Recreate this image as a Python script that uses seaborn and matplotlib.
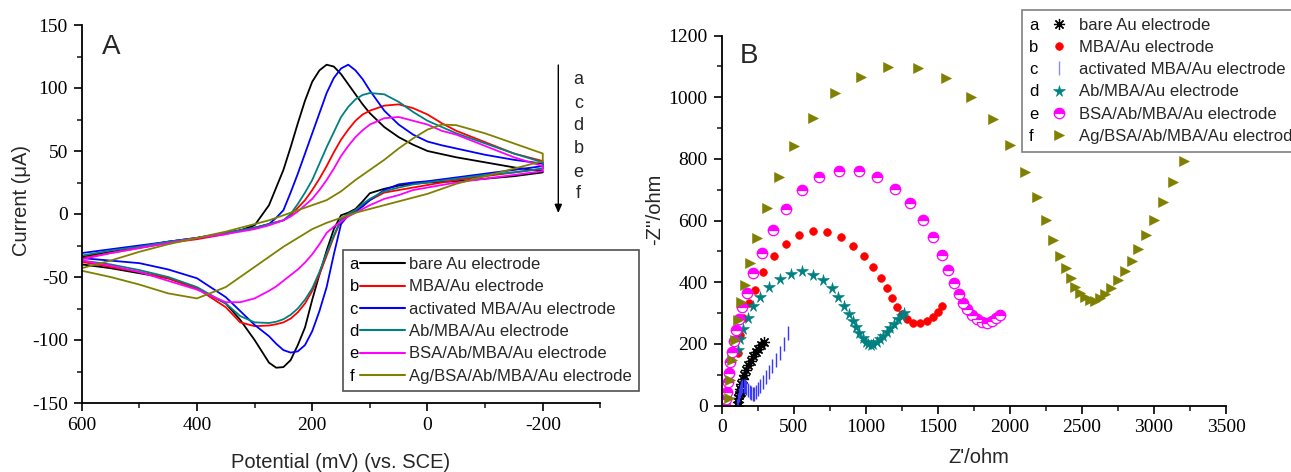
import numpy as np
import pandas as pd
import matplotlib
matplotlib.use("Agg")
import matplotlib.pyplot as plt
import seaborn as sns
from matplotlib.lines import Line2D
from matplotlib.text import Text
from matplotlib.legend_handler import HandlerBase
from matplotlib.ticker import FixedLocator, MultipleLocator

# ---------------- data: panel A (cyclic voltammetry) ----------------
potential_mV = [600, 550, 500, 450, 400, 350, 325, 300, 275, 262.5, 250, 237.5, 225, 212.5, 200,
                187.5, 175, 162.5, 150, 137.5, 125, 112.5, 100, 75, 50, 25, 0, -25, -50, -100, -150, -200]

cv_a_fwd = [-34, -30, -26, -22, -19, -15, -13, -9, 7, 21, 35, 53, 72, 90, 105,
            114, 118.5, 117, 111, 103, 95, 87, 80, 69, 61, 55, 50, 47.5, 45, 41, 37, 34]
cv_a_rev = [-40, -43, -47, -51, -59, -71, -84, -100, -118, -122, -121.5, -116, -104, -90, -68,
            -48, -29, -12, -1, 1, 4, 10, 16.5, 20, 22.5, 24, 25, 25.5, 26, 28, 30, 33]
cv_b_fwd = [-35, -31, -27, -23, -20, -16, -13, -11, -8, -6.5, -5, -1, 5, 11, 19,
            28, 38, 49, 59, 67, 74, 79, 82, 86, 87, 84, 79, 72, 66, 57, 48, 42]
cv_b_rev = [-38, -42, -46, -51, -59, -74, -86, -89, -88.5, -87.5, -86, -83, -78, -71, -61,
            -48, -33, -18, -5, 0, 3, 7, 11, 17, 19, 21, 23, 25, 27, 30, 33, 36]
cv_c_fwd = [-31, -28, -25, -22, -19, -15, -13, -11, -8, -3, 3, 17, 32, 48, 64,
            80, 96, 108, 115.5, 118.5, 114, 107, 98, 82, 71, 63, 57.5, 54.5, 52, 47, 43, 40]
cv_c_rev = [-35, -37, -39, -44, -51, -66, -77, -88, -97, -103, -108, -110, -109, -104, -93,
            -77, -58, -32, -8, -1, 2, 6, 11, 19, 23.5, 25, 26, 27.5, 29, 32, 35, 38]
cv_d_fwd = [-33, -29, -26, -22, -19, -15, -13, -11, -8, -6.5, -5, 0, 8, 17, 27,
            40, 53, 65, 77, 85, 91, 94.5, 96, 95, 89, 81, 74, 69, 64, 56, 48, 41]
cv_d_rev = [-37, -40, -44.5, -50, -58, -71, -81, -86, -86.5, -85.5, -83.5, -80, -75, -68, -59,
            -46, -31, -17, -4, 0, 3, 8, 12, 18, 21, 23.5, 25, 26.5, 28, 31, 33, 36]
cv_e_fwd = [-36, -31, -27, -23, -19, -16, -14, -12, -9, -7, -5, -2, 2, 7, 12,
            19, 27, 36, 46, 54, 61, 66.5, 71, 76, 77, 74, 71, 66, 63, 54, 45, 38]
cv_e_rev = [-37, -41, -46, -53, -60, -70, -70, -67, -61, -57.5, -53, -48.5, -44, -38.5, -32,
            -24, -15, -10, -6, -2, 1, 4, 7, 12, 15, 19, 21, 23, 25, 28, 31, 34]
cv_f_fwd = [-43, -37, -30, -24, -19, -14, -11, -8, -5, -3, -1, 1, 3, 5, 7,
            9, 11, 14.5, 18, 22.5, 27, 31, 35, 43, 52, 60, 67, 71, 70.5, 64, 56, 48]
cv_f_rev = [-45, -50, -56, -63, -67, -58, -50, -42, -34, -30, -26, -22.5, -19, -15.5, -12,
            -9.5, -7, -5, -3, -1, 1, 2.5, 4, 7, 10, 13, 16, 20, 24, 30, 36, 42]

series_letters = ["a", "b", "c", "d", "e", "f"]
series_labels = ["bare Au electrode", "MBA/Au electrode", "activated MBA/Au electrode",
                 "Ab/MBA/Au electrode", "BSA/Ab/MBA/Au electrode", "Ag/BSA/Ab/MBA/Au electrode"]
arrow_order = ["a", "c", "d", "b", "e", "f"]

# ---------------- data: panel B (Nyquist plots) ----------------
eis_a_zre = [110, 112, 116, 122, 128, 132, 130, 135, 145, 157, 170, 185, 200, 218, 236, 255, 275, 296]
eis_a_zim = [0, 12, 25, 35, 40, 45, 55, 70, 85, 100, 115, 130, 145, 160, 172, 184, 195, 205]

eis_b_zre = [110, 130, 150, 192, 231, 289, 363, 446, 539, 636, 729, 828, 914, 988, 1048, 1103,
             1145, 1182, 1214, 1249, 1284, 1330, 1376, 1423, 1469, 1504, 1531]
eis_b_zim = [170, 230, 285, 333, 375, 432, 485, 523, 552, 566, 564, 545, 518, 485, 448, 412,
             380, 349, 320, 296, 280, 269, 269, 275, 288, 304, 324]

eis_c_zre = [108, 112, 118, 125, 133, 142, 152, 162, 172, 182, 193, 204, 215, 225, 236, 250,
             266, 284, 304, 326, 350, 376, 403, 430, 458]
eis_c_zim = [0, 18, 34, 47, 56, 62, 64, 62, 57, 51, 45, 40, 37, 38, 43, 52,
             63, 76, 91, 108, 127, 148, 171, 200, 234]

eis_d_zre = [110, 125, 150, 185, 220, 266, 331, 405, 479, 560, 636, 701, 763, 810, 849, 884,
             909, 932, 955, 978, 999, 1018, 1034, 1052, 1076, 1099, 1122, 1145, 1168, 1196,
             1226, 1249, 1268]
eis_d_zim = [180, 215, 247, 283, 323, 353, 383, 409, 426, 437, 424, 407, 382, 353, 324, 297,
             275, 256, 236, 220, 207, 198, 196, 199, 207, 216, 226, 237, 250, 264,
             279, 291, 299]

eis_e_zre = [25, 30, 35, 42, 50, 60, 72, 85, 100, 118, 140, 174, 220, 278, 354, 446, 555, 678,
             817, 955, 1076, 1203, 1307, 1395, 1469, 1527, 1573, 1615, 1649, 1677, 1700, 1735,
             1770, 1804, 1839, 1874, 1904, 1932]
eis_e_zim = [0, 20, 45, 75, 105, 140, 175, 210, 245, 282, 320, 366, 429, 496, 569, 638, 699, 742,
             762, 762, 740, 702, 656, 602, 545, 488, 440, 396, 361, 334, 312, 294,
             280, 272, 269, 275, 285, 294]

eis_f_zre = [48, 56, 71, 90, 110, 133, 161, 195, 246, 311, 401, 500, 636, 788, 966, 1155, 1360,
             1557, 1728, 1881, 2001, 2105, 2186, 2251, 2301, 2348, 2389, 2422, 2452, 2487, 2521,
             2556, 2591, 2625, 2660, 2700, 2753, 2799, 2845, 2891, 2945, 3000, 3065, 3134, 3210]
eis_f_zim = [25, 84, 149, 213, 278, 337, 391, 461, 542, 639, 740, 842, 934, 1013, 1067, 1098, 1093,
             1061, 1002, 929, 845, 756, 675, 602, 537, 486, 445, 413, 385, 366, 351,
             342, 340, 348, 362, 380, 407, 437, 470, 507, 553, 602, 661, 724, 794]

# ---------------- style ----------------
sns.set_style("ticks")
SANS = "Liberation Sans"
SERIF = "Liberation Serif"
plt.rcParams["font.family"] = [SANS, "DejaVu Sans"]
plt.rcParams["axes.unicode_minus"] = False

colors = ["#000000", "#ff0000", "#0000ff", "#008080", "#ff00ff", "#808000"]

W, H = 1291, 472
fig = plt.figure(figsize=(W / 100, H / 100), dpi=100)
axA = fig.add_axes([81.7 / W, 1 - 403 / H, (600.4 - 81.7) / W, 378 / H])
axB = fig.add_axes([721.7 / W, 1 - 405.5 / H, (1226 - 721.7) / W, 370 / H])

# ---------------- panel A ----------------
fwd = [cv_a_fwd, cv_b_fwd, cv_c_fwd, cv_d_fwd, cv_e_fwd, cv_f_fwd]
rev = [cv_a_rev, cv_b_rev, cv_c_rev, cv_d_rev, cv_e_rev, cv_f_rev]
for i in range(6):
    df = pd.DataFrame({"E": potential_mV + potential_mV[::-1],
                       "I": fwd[i] + rev[i][::-1]})
    sns.lineplot(data=df, x="E", y="I", sort=False, estimator=None, color=colors[i],
                 linewidth=1.3, ax=axA, legend=False)

axA.set_xlim(600, -300)
axA.set_ylim(-150, 150)
axA.xaxis.set_major_locator(FixedLocator([600, 400, 200, 0, -200]))
axA.xaxis.set_minor_locator(FixedLocator([500, 300, 100, -100, -300]))
axA.yaxis.set_major_locator(MultipleLocator(50))
axA.yaxis.set_minor_locator(MultipleLocator(25))
axA.set_xlabel("Potential (mV) (vs. SCE)", fontsize=14.5, family=SANS)
axA.set_ylabel("Current (\u03bcA)", fontsize=14.5, family=SANS)
axA.xaxis.set_label_coords(0.5, -0.132)
axA.yaxis.set_label_coords(-0.098, 0.537)

# ---------------- panel B ----------------
eis = [(eis_a_zre, eis_a_zim), (eis_b_zre, eis_b_zim), (eis_c_zre, eis_c_zim),
       (eis_d_zre, eis_d_zim), (eis_e_zre, eis_e_zim), (eis_f_zre, eis_f_zim)]
marker_styles = [
    dict(marker=(8, 2, 0), markersize=8, markeredgewidth=0.9, markeredgecolor=colors[0],
         markerfacecolor=colors[0], color=colors[0]),
    dict(marker="o", markersize=5.5, markeredgewidth=0.5, markeredgecolor=colors[1],
         markerfacecolor=colors[1], color=colors[1]),
    dict(marker="|", markersize=10, markeredgewidth=1.0, markeredgecolor="#3a3aff",
         markerfacecolor="#3a3aff", color="#3a3aff"),
    dict(marker="*", markersize=8.5, markeredgewidth=0.4, markeredgecolor=colors[3],
         markerfacecolor=colors[3], color=colors[3]),
    dict(marker="o", markersize=7.5, markeredgewidth=0.9, markeredgecolor=colors[4], color=colors[4],
         markerfacecolor=colors[4], fillstyle="top", markerfacecoloralt="white"),
    dict(marker=">", markersize=6.5, markeredgewidth=0.4, markeredgecolor=colors[5],
         markerfacecolor=colors[5], color=colors[5]),
]
for i in range(6):
    zre, zim = eis[i]
    sns.lineplot(x=zre, y=zim, sort=False, estimator=None, ax=axB, legend=False,
                 linestyle="none", **marker_styles[i])

axB.set_xlim(0, 3500)
axB.set_ylim(0, 1200)
axB.xaxis.set_major_locator(MultipleLocator(500))
axB.xaxis.set_minor_locator(MultipleLocator(250))
axB.yaxis.set_major_locator(MultipleLocator(200))
axB.yaxis.set_minor_locator(MultipleLocator(100))
axB.set_xlabel("Z'/ohm", fontsize=14.5, family=SANS)
axB.set_ylabel("-Z''/ohm", fontsize=14.5, family=SANS)
axB.xaxis.set_label_coords(0.51, -0.116)
axB.yaxis.set_label_coords(-0.114, 0.531)

for ax in (axA, axB):
    sns.despine(ax=ax)
    for s in ("left", "bottom"):
        ax.spines[s].set_linewidth(1.3)
        ax.spines[s].set_color("black")
    ax.tick_params(which="major", direction="out", length=6, width=1.2, pad=4,
                   labelsize=14, colors="black", labelfontfamily=SERIF)
    ax.tick_params(which="minor", direction="out", length=3.5, width=1.2)
    ax.grid(False)


# ---------------- legends with leading letters ----------------
class LetterHandler(HandlerBase):
    def __init__(self, letter, style, kind, offset):
        super().__init__()
        self.letter = letter
        self.style = style
        self.kind = kind
        self.offset = offset

    def create_artists(self, legend, orig_handle, xdescent, ydescent, width, height,
                       fontsize, trans):
        x0 = -xdescent
        yc = (height - ydescent) / 2.0
        txt = Text(x0, 0, self.letter, fontsize=fontsize, va="baseline", ha="left",
                   family=SANS, color="black")
        txt.set_transform(trans)
        if self.kind == "line":
            art = Line2D([x0 + self.offset, x0 + width], [yc, yc], **self.style)
        else:
            art = Line2D([x0 + self.offset], [yc], linestyle="none", **self.style)
        art.set_transform(trans)
        return [txt, art]


handlesA = [Line2D([], []) for _ in range(6)]
hmapA = {h: LetterHandler(series_letters[i], dict(color=colors[i], linewidth=1.5), "line", 7.5)
         for i, h in enumerate(handlesA)}
legA = axA.legend(handlesA, series_labels, handler_map=hmapA, loc="upper left",
                  bbox_to_anchor=(342.7 / W, 1 - 250 / H), bbox_transform=fig.transFigure,
                  borderaxespad=0, borderpad=0.42, handlelength=3.3, handletextpad=0.25,
                  labelspacing=0.44, frameon=True, fancybox=False, framealpha=1,
                  edgecolor="#505050", prop={"family": SANS, "size": 12})
legA.get_frame().set_linewidth(1.2)

handlesB = [Line2D([], []) for _ in range(6)]
hmapB = {}
for i, h in enumerate(handlesB):
    st = dict(marker_styles[i])
    if i == 2:
        st["markeredgecolor"] = "#8c8cff"
        st["markerfacecolor"] = "#8c8cff"
        st["color"] = "#8c8cff"
    hmapB[h] = LetterHandler(series_letters[i], st, "marker", 21.6)
legB = axB.legend(handlesB, series_labels, handler_map=hmapB, loc="upper left",
                  bbox_to_anchor=(1021.7 / W, 1 - 10 / H), bbox_transform=fig.transFigure,
                  borderaxespad=0, borderpad=0.45, handlelength=2.6, handletextpad=0.4,
                  labelspacing=0.44, frameon=True, fancybox=False, framealpha=1,
                  edgecolor="#808080", prop={"family": SANS, "size": 12})
legB.get_frame().set_linewidth(1.2)

# ---------------- annotations ----------------
fig.text(110.7 / W, 1 - 46.7 / H, "A", fontsize=20, family=SANS, ha="center", va="center")
fig.text(749 / W, 1 - 56 / H, "B", fontsize=20, family=SANS, ha="center", va="center")

fig.add_artist(matplotlib.patches.FancyArrowPatch(
    (558.3 / W, 1 - 65 / H), (558.3 / W, 1 - 213 / H), transform=fig.transFigure,
    arrowstyle="-|>,head_length=5,head_width=2.2", color="black", linewidth=1.0,
    shrinkA=0, shrinkB=0))
letter_y = [80, 103.3, 126, 149, 172.7, 194]
for lt, yy in zip(arrow_order, letter_y):
    fig.text(578.6 / W, 1 - yy / H, lt, fontsize=13, family=SANS, ha="center", va="center")

fig.savefig("out.png", dpi=100)
